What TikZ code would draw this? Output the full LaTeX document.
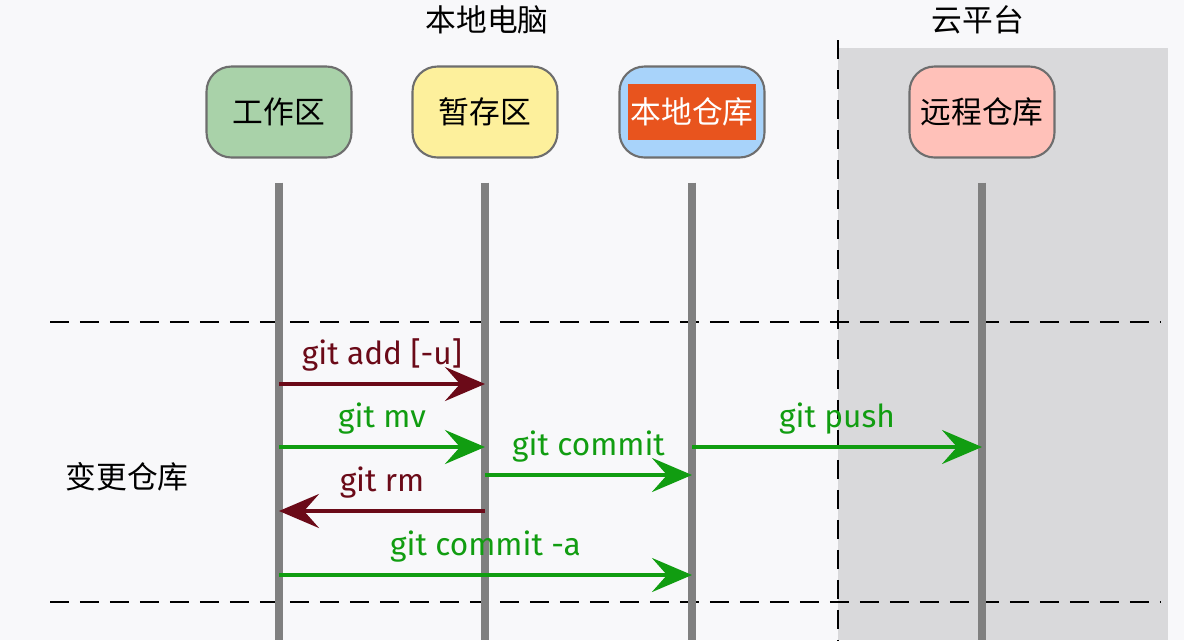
\documentclass[tikz,border=0pt]{standalone}
\usepackage{fontspec}
\setmainfont{Fira Sans}
\newfontfamily\cjk{Noto Sans CJK SC}
\usepackage{tikz}
\usetikzlibrary{positioning, arrows.meta}
\definecolor{bgcol}{HTML}{F8F8FA}
\definecolor{cloudgray}{HTML}{D9D9DB}
\definecolor{lifegray}{HTML}{808080}
\definecolor{boxline}{HTML}{6E6E6E}
\definecolor{workfill}{HTML}{A9D2A9}
\definecolor{stagefill}{HTML}{FDF09C}
\definecolor{localfill}{HTML}{A8D3FA}
\definecolor{remotefill}{HTML}{FFC1B9}
\definecolor{hlorange}{HTML}{E8541E}
\definecolor{cmdgreen}{HTML}{119D11}
\definecolor{cmdred}{HTML}{6B0A18}

\begin{document}
\begin{tikzpicture}[
        x=0.02cm, y=-0.02cm,
        every node/.style={font=\fontsize{17.5}{21}\selectfont\cjk},
        area/.style={rectangle, rounded corners=0.5cm, minimum width=2.9cm, minimum height=1.82cm, draw=boxline, line width=1.2pt},
        lifeline/.style={line width=0.16cm, draw=lifegray},
        sep/.style={line width=1.2pt, dash pattern=on 0.38cm off 0.22cm},
        msg/.style={line width=0.08cm, -{Stealth[length=0.8cm, width=0.68cm, inset=0.3cm]}},
        cmd/.style={font=\fontsize{18}{22}\selectfont, midway, above=3pt}
    ]

    % Background
    \fill[bgcol] (0,0) rectangle (1184,640);
    \useasboundingbox (0,0) rectangle (1184,640);
    \fill[cloudgray] (838,48) rectangle (1168,640);

    % Nodes
    \node (pc) at (487,20) {本地电脑};
    \node (cloud) at (978,20) {云平台};
    \node (work) [area, fill=workfill] at (279,112) {工作区};
    \node (stage) [area, fill=stagefill] at (485,112) {暂存区};
    \node (local) [area, fill=localfill] at (692,112) {\setlength\fboxsep{1.5pt}\colorbox{hlorange}{\rule[-0.27cm]{0pt}{1cm}\textcolor{white}{本地仓库}}};
    \node (remote) [area, fill=remotefill] at (982,112) {远程仓库};
    \node (change) at (127,477) {变更仓库};

    \coordinate (bottom) at (0,640);
    \coordinate (rowadd) at (0,384);
    \coordinate (rowmv) at (0,447);
    \coordinate (rowcommit) at (0,475);
    \coordinate (rowrm) at (0,511);
    \coordinate (rowall) at (0,575);

    % Separators
    \draw[sep] (50,322) -- (1160,322);
    \draw[sep] (50,602) -- (1160,602);
    \draw[sep] (838,40) -- (838,640);

    % Lifelines
    \foreach \n in {work, stage, local, remote}
        \draw[lifeline] ([yshift=-0.48cm]\n.south) -- (\n |- bottom);

    % Arrows
    \draw[msg, cmdred] (work |- rowadd) -- (stage |- rowadd) node[cmd] {git add [-u]};
    \draw[msg, cmdgreen] (work |- rowmv) -- (stage |- rowmv) node[cmd] {git mv};
    \draw[msg, cmdgreen] (stage |- rowcommit) -- (local |- rowcommit) node[cmd] {git commit};
    \draw[msg, cmdgreen] (local |- rowmv) -- (remote |- rowmv) node[cmd] {git push};
    \draw[msg, cmdred] (stage |- rowrm) -- (work |- rowrm) node[cmd] {git rm};
    \draw[msg, cmdgreen] (work |- rowall) -- (local |- rowall) node[cmd] {git commit -a};

\end{tikzpicture}
\end{document}
